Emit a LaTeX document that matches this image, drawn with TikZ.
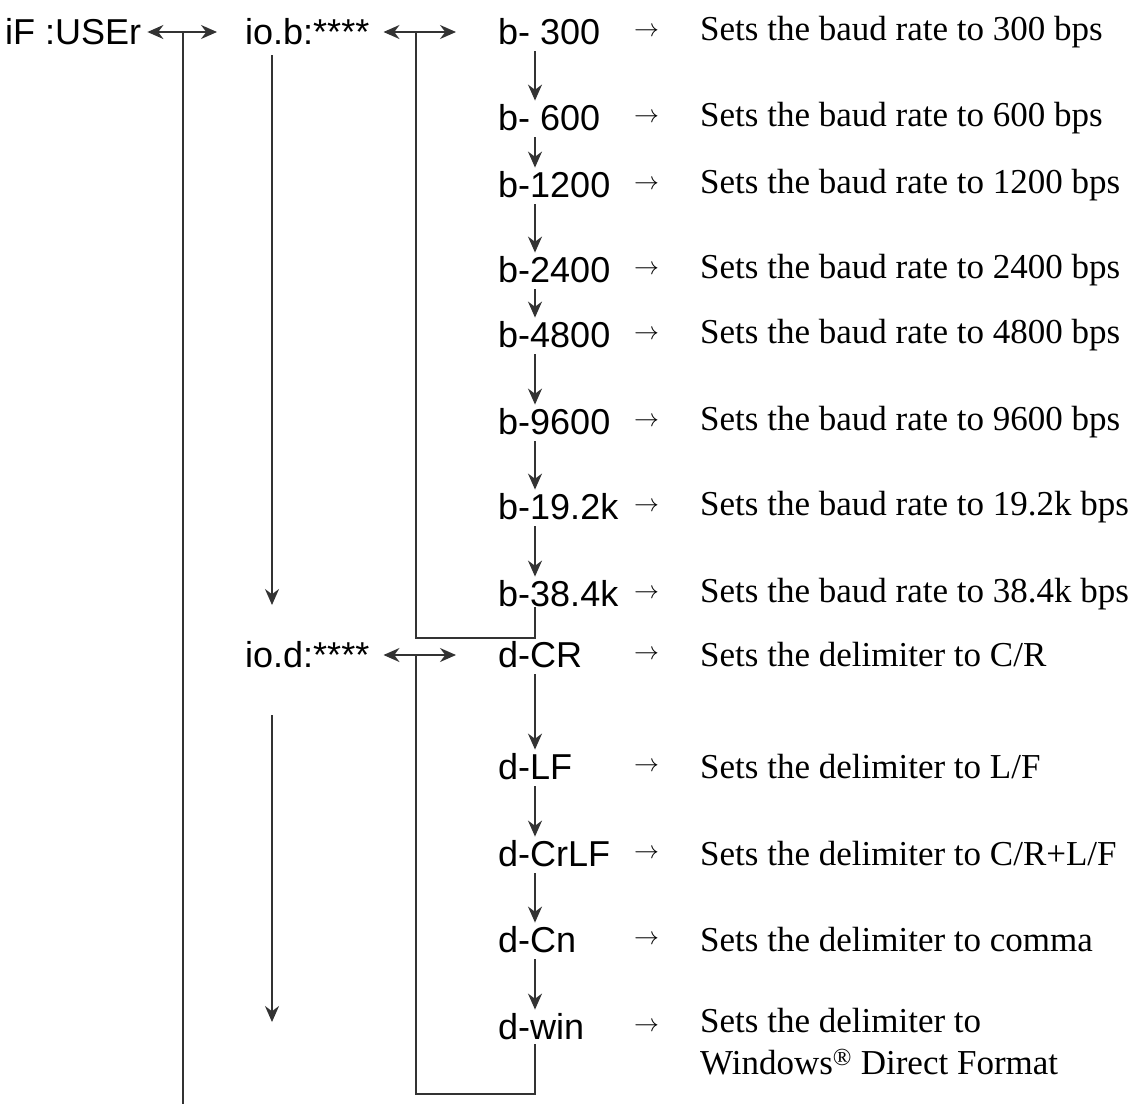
\documentclass[tikz,border=0pt]{standalone}
\usepackage{fontspec}
\setmainfont{Liberation Serif}
\setsansfont{Liberation Sans}
\usetikzlibrary{arrows.meta}

\tikzset{
  key/.style={anchor=west, inner sep=0pt, font=\sffamily\fontsize{36}{36}\selectfont},
  to/.style={anchor=west, inner sep=0pt, font=\fontsize{64}{64}\selectfont},
  desc/.style={anchor=west, inner sep=0pt, align=left, font=\fontsize{35}{42}\selectfont},
  line/.style={line width=1.8pt, draw=black!80},
  arr/.style={line, -{Stealth[length=16pt,width=14pt]}},
  dbl/.style={line, {Stealth[length=16pt,width=14pt]}-{Stealth[length=16pt,width=14pt]}}
}

\begin{document}
\begin{tikzpicture}[x=1pt, y=-1pt]
        \useasboundingbox (0,0) rectangle (1137,1104);

        % main keys
        \node[key] (user) at (5, 32) {iF :USEr};
        \node[key] (iob) at (245, 32) {io.b:****};
        \node[key] (iod) at (245, 655) {io.d:****};

        % baud rate settings
        \foreach \n/\y/\k/\t in {1/32/b- 300/300, 2/118/b- 600/600, 3/185/b-1200/1200,
            4/270/b-2400/2400, 5/335/b-4800/4800, 6/422/b-9600/9600,
            7/507/b-19.2k/19.2k, 8/594/b-38.4k/38.4k}{
          \node[key] (b\n) at (498, \y) {\k};
          \node[to] (bt\n) at (634, \y) {$\rightarrow$};
          \node[desc] (bd\n) at (700, \y) {Sets the baud rate to \t\ bps};
        }

        % delimiter settings
        \foreach \n/\y/\k/\t in {1/655/d-CR/{C/R}, 2/767/d-LF/{L/F}, 3/854/d-CrLF/{C/R+L/F},
            4/940/d-Cn/comma}{
          \node[key] (d\n) at (498, \y) {\k};
          \node[to] (dt\n) at (634, \y) {$\rightarrow$};
          \node[desc] (dd\n) at (700, \y) {Sets the delimiter to \t};
        }
        \node[key] (d5) at (498, 1027) {d-win};
        \node[to] (dt5) at (634, 1027) {$\rightarrow$};
        \node[desc, anchor=north west] (dd5) at (700, 1008) {Sets the delimiter to\\Windows\textsuperscript{\textregistered} Direct Format};

        % double arrows
        \draw[dbl] ([xshift=6pt]user.east) -- ([xshift=-28pt]iob.west);
        \draw[dbl] ([xshift=14pt]iob.east) -- ([xshift=-42pt]b1.west);
        \draw[dbl] ([xshift=14pt]iod.east) -- ([xshift=-42pt]d1.west);

        % loops back
        \draw[line] (183, 32) -- (183, 1104);
        \draw[line] (416, 32) -- (416, 638) -- (535, 638) -- ([xshift=37pt]b8.south west);
        \draw[line] (416, 655) -- (416, 1094) -- (535, 1094) -- ([xshift=37pt,yshift=-4pt]d5.south west);

        % next key arrows
        \draw[arr] (272, 55) -- (272, 605);
        \draw[arr] (272, 715) -- (272, 1022);
        \foreach \a/\b in {1/2, 2/3, 3/4, 4/5, 5/6, 6/7, 7/8}
          \draw[arr] ([xshift=37pt,yshift=-6pt]b\a.south west) -- ([xshift=37pt,yshift=4pt]b\b.north west);
        \foreach \a/\b in {1/2, 2/3, 3/4, 4/5}
          \draw[arr] ([xshift=37pt,yshift=-6pt]d\a.south west) -- ([xshift=37pt,yshift=4pt]d\b.north west);
    \end{tikzpicture}
\end{document}
